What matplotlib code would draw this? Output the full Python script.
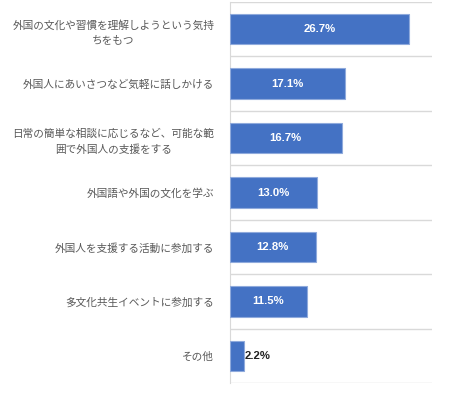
import matplotlib
matplotlib.use("Agg")
import matplotlib.pyplot as plt

plt.rcParams['font.family'] = ['Noto Sans CJK JP', 'DejaVu Sans']

labels = [
    "外国の文化や習慣を理解しようという気持\nちをもつ",
    "外国人にあいさつなど気軽に話しかける",
    "日常の簡単な相談に応じるなど、可能な範\n囲で外国人の支援をする",
    "外国語や外国の文化を学ぶ",
    "外国人を支援する活動に参加する",
    "多文化共生イベントに参加する",
    "その他",
]
values = [26.7, 17.1, 16.7, 13.0, 12.8, 11.5, 2.2]

fig = plt.figure(figsize=(4.5, 3.93), dpi=100)
ax = fig.add_axes([0.51, 0.025, 0.449, 0.97])

y = list(range(len(values)))
ax.barh(y, values, height=0.56, color="#4472C4", edgecolor="#8FAADC", linewidth=0.8, zorder=3)
ax.set_xlim(0, 30)
ax.set_ylim(len(values) - 0.5, -0.5)

for i, v in enumerate(values):
    if v > 5:
        ax.text(v / 2, i, f"{v:.1f}%", ha="center", va="center", color="white",
                fontsize=8.2, fontweight="bold", family=["Liberation Sans", "DejaVu Sans"])
    else:
        ax.text(v + 0.1, i, f"{v:.1f}%", ha="left", va="center", color="#222222",
                fontsize=8.2, fontweight="bold", family=["Liberation Sans", "DejaVu Sans"])

# category separators
for b in range(len(values) + 1):
    ax.axhline(b - 0.5, color="#D9D9D9", linewidth=1.0, zorder=1)

ax.set_yticks(y)
ax.set_yticklabels(labels, fontsize=7.7, color="#595959", multialignment="center", linespacing=1.6)
ax.tick_params(axis="y", length=0, pad=11)
ax.set_xticks([])
for s in ["top", "right", "bottom"]:
    ax.spines[s].set_visible(False)
ax.spines["left"].set_color("#D9D9D9")

fig.savefig("out.png", dpi=100)
